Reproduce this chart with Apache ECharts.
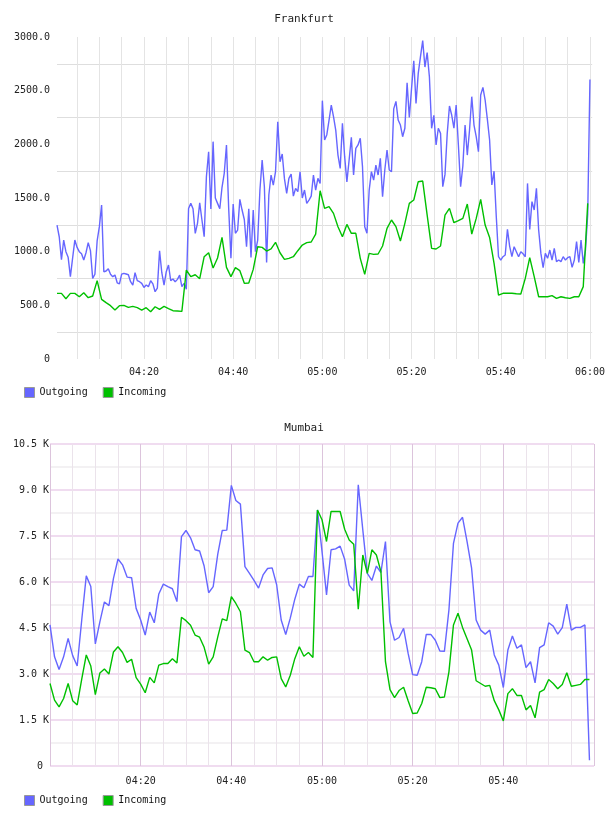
<!DOCTYPE html>
<html>
<head>
<meta charset="utf-8">
<title>Frankfurt / Mumbai traffic</title>
<script src="https://cdn.jsdelivr.net/npm/echarts@6/dist/echarts.min.js"></script>
<style>
  html, body { margin: 0; padding: 0; background: #ffffff; }
  #chart { width: 608px; height: 816px; }
</style>
</head>
<body>
<div id="chart"></div>
<script>
// Frankfurt: outgoing sampled every 30 s from 04:00:30, incoming every minute
const frankfurtOutgoing = [
  1248, 1139, 925, 1108, 1000, 947, 767, 940, 1108, 1040,
  1000, 980, 922, 990, 1084, 1010, 751, 790, 1100, 1233,
  1435, 813, 820, 841, 790, 767, 782, 710, 700, 790,
  798, 792, 785, 720, 689, 804, 730, 720, 705, 667,
  689, 674, 730, 700, 627, 660, 1009, 804, 689, 813,
  876, 730, 745, 720, 742, 782, 674, 705, 650, 1403,
  1450, 1400, 1171, 1264, 1456, 1295, 1140, 1698, 1931, 1397,
  2025, 1500, 1450, 1400, 1600, 1730, 1994, 1400, 938, 1444,
  1171, 1200, 1487, 1388, 1300, 1046, 1400, 947, 1388, 1000,
  1108, 1574, 1854, 1605, 900, 1528, 1714, 1620, 1745, 2211,
  1838, 1910, 1680, 1543, 1683, 1723, 1518, 1590, 1560, 1745,
  1500, 1574, 1450, 1481, 1518, 1714, 1574, 1683, 1636, 2407,
  2040, 2090, 2226, 2366, 2258, 2133, 1900, 1776, 2195, 1885,
  1650, 1854, 2065, 1714, 1962, 1994, 2056, 1792, 1233, 1171,
  1574, 1745, 1667, 1807, 1714, 1869, 1512, 1761, 1947, 1761,
  1745, 2330, 2400, 2226, 2180, 2071, 2150, 2574, 2250, 2521,
  2779, 2380, 2661, 2817, 2966, 2720, 2854, 2630, 2149, 2270,
  1994, 2150, 2102, 1605, 1720, 2102, 2357, 2273, 2150, 2366,
  1994, 1605, 1798, 2180, 1900, 2133, 2444, 2180, 2071, 1931,
  2459, 2531, 2413, 2233, 2040, 1621, 1750, 1326, 953, 922,
  953, 969, 1208, 1050, 953, 1046, 1000, 953, 1000, 980,
  953, 1636, 1208, 1466, 1388, 1590, 1202, 984, 850, 984,
  938, 1015, 922, 1031, 907, 922, 907, 953, 922, 944,
  953, 854, 922, 1093, 900, 1108, 891, 1015, 1350, 2605
]

const frankfurtIncoming = [
  611, 611, 562, 611, 611, 580, 618, 571, 587, 730,
  556, 525, 497, 456, 497, 500, 481, 490, 478, 456,
  478, 441, 487, 462, 490, 469, 450, 447, 444, 829,
  767, 785, 748, 953, 990, 848, 941, 1133, 854, 767,
  851, 823, 705, 708, 835, 1046, 1040, 1006, 1025, 1087,
  990, 928, 938, 953, 1009, 1062, 1084, 1090, 1164, 1568,
  1403, 1419, 1357, 1233, 1139, 1254, 1171, 1171, 938, 789,
  984, 975, 978, 1053, 1217, 1295, 1233, 1099, 1264, 1450,
  1481, 1652, 1658, 1341, 1031, 1025, 1053, 1341, 1403, 1270,
  1289, 1310, 1444, 1164, 1310, 1487, 1248, 1133, 891, 596,
  612, 612, 612, 608, 605, 751, 944, 767, 580, 580,
  580, 590, 565, 580, 571, 565, 580, 580, 674, 1450
]

// Mumbai: one sample per minute from 04:00
const mumbaiOutgoing = [
  4600, 3560, 3150, 3560, 4160, 3600, 3260, 4760, 6200, 5850,
  3980, 4700, 5350, 5230, 6120, 6750, 6560, 6160, 6140, 5140,
  4760, 4270, 5020, 4670, 5610, 5930, 5850, 5780, 5360, 7480,
  7680, 7440, 7050, 7010, 6520, 5650, 5850, 6900, 7680, 7690,
  9150, 8660, 8540, 6500, 6280, 6050, 5800, 6230, 6440, 6460,
  5910, 4760, 4290, 4820, 5440, 5930, 5810, 6180, 6180, 8350,
  7000, 5580, 7050, 7080, 7170, 6740, 5900, 5710, 9170, 7700,
  6280, 6050, 6520, 6310, 7320, 4700, 4100, 4190, 4490, 3670,
  2980, 2960, 3400, 4290, 4290, 4100, 3750, 3740, 5090, 7260,
  7920, 8110, 7320, 6450, 4760, 4430, 4300, 4430, 3620, 3290,
  2560, 3780, 4240, 3840, 3950, 3210, 3400, 2710, 3860, 3950,
  4670, 4560, 4300, 4510, 5280, 4430, 4520, 4520, 4600, 190
]

const mumbaiIncoming = [
  2690, 2150, 1930, 2200, 2690, 2130, 1990, 2830, 3620, 3260,
  2330, 3030, 3160, 3000, 3720, 3890, 3700, 3380, 3480, 2880,
  2670, 2390, 2890, 2710, 3290, 3340, 3340, 3500, 3360, 4850,
  4740, 4590, 4270, 4200, 3870, 3320, 3560, 4200, 4800, 4740,
  5520, 5300, 5030, 3780, 3700, 3400, 3400, 3560, 3450, 3540,
  3560, 2850, 2580, 2960, 3500, 3890, 3580, 3700, 3540, 8350,
  8030, 7320, 8300, 8300, 8300, 7720, 7370, 7230, 5110, 6880,
  6280, 7050, 6880, 6340, 3400, 2490, 2230, 2460, 2570, 2130,
  1710, 1730, 2040, 2570, 2550, 2520, 2230, 2250, 3070, 4600,
  4980, 4520, 4150, 3780, 2780, 2690, 2600, 2630, 2130, 1830,
  1470, 2360, 2520, 2300, 2300, 1830, 1970, 1570, 2410, 2490,
  2820, 2690, 2520, 2660, 3040, 2600, 2630, 2660, 2820, 2820
]

const seriesNames = ['Outgoing', 'Incoming']
const titles = ['Frankfurt', 'Mumbai']

const FONT = 'DejaVu Sans Mono'
const BLUE = '#6666ff'
const GREEN = '#00c000'

function clock(seconds) {
  const h = String(Math.floor(seconds / 3600)).padStart(2, '0')
  const m = String(Math.floor(seconds / 60) % 60).padStart(2, '0')
  const s = String(seconds % 60).padStart(2, '0')
  return `${h}:${m}:${s}`
}

// x categories: 04:00:30 .. 06:00:30 every 30 s, 04:00 .. 06:00 every minute
const frankfurtTimes = []
for (let s = 4 * 3600 + 30; s <= 6 * 3600 + 30; s += 30) frankfurtTimes.push(clock(s))
const mumbaiTimes = []
for (let s = 4 * 3600; s <= 6 * 3600; s += 60) mumbaiTimes.push(clock(s))

// incoming is per minute, so it sits on every other 30 s slot
const frankfurtIncomingData = frankfurtTimes.map((_, i) =>
  i % 2 === 0 && i / 2 < frankfurtIncoming.length ? frankfurtIncoming[i / 2] : null)

const labelStyle = { fontFamily: FONT, fontSize: 10, color: '#222' }

function lineSeries(name, data, gridIndex, color) {
  return {
    name,
    type: 'line',
    xAxisIndex: gridIndex,
    yAxisIndex: gridIndex,
    data,
    symbol: 'none',
    connectNulls: true,
    lineStyle: { color, width: 1.4 },
    itemStyle: { color }
  }
}

function legendAt(top) {
  return {
    left: 24,
    top,
    padding: 0,
    icon: 'rect',
    itemWidth: 10,
    itemHeight: 10,
    itemGap: 15,
    selectedMode: false,
    data: seriesNames,
    itemStyle: { borderColor: '#999999', borderWidth: 1 },
    textStyle: { fontFamily: FONT, fontSize: 10, color: '#111' }
  }
}

function buildOption() {
  return {
    animation: false,
    backgroundColor: '#ffffff',
    title: [
      { text: titles[0], left: 'center', top: 14, padding: 0,
        textStyle: { fontFamily: FONT, fontSize: 11, fontWeight: 'normal', color: '#222' } },
      { text: titles[1], left: 'center', top: 423, padding: 0,
        textStyle: { fontFamily: FONT, fontSize: 11, fontWeight: 'normal', color: '#222' } }
    ],
    legend: [legendAt(387), legendAt(795)],
    grid: [
      { left: 57, right: 14, top: 37, height: 322 },
      { left: 50, right: 14, top: 444, height: 322 }
    ],
    xAxis: [
      {
        type: 'category',
        gridIndex: 0,
        data: frankfurtTimes,
        boundaryGap: false,
        axisLine: { show: false },
        axisTick: { show: false },
        axisLabel: {
          ...labelStyle,
          margin: 8,
          interval: (index) => index >= 39 && (index - 39) % 40 === 0,
          formatter: (value) => value.slice(0, 5)
        },
        splitLine: {
          show: true,
          interval: (index) => index >= 9 && (index - 9) % 10 === 0,
          lineStyle: { color: '#e4e4e4', width: 1 }
        }
      },
      {
        type: 'category',
        gridIndex: 1,
        data: mumbaiTimes,
        boundaryGap: false,
        axisLine: { show: false },
        axisTick: { show: false },
        axisLabel: {
          ...labelStyle,
          margin: 10,
          interval: (index) => index > 0 && index < 120 && index % 20 === 0,
          formatter: (value) => value.slice(0, 5)
        },
        splitLine: {
          show: true,
          interval: 4,
          lineStyle: { color: ['#dcc4dc', '#ebe3eb', '#ebe3eb', '#ebe3eb'], width: 1 }
        }
      }
    ],
    yAxis: [
      {
        type: 'value',
        gridIndex: 0,
        min: 0,
        max: 3000,
        interval: 250,
        axisLine: { show: false },
        axisTick: { show: false },
        axisLabel: {
          ...labelStyle,
          margin: 7,
          formatter: (v) => (v % 500 !== 0 ? '' : v === 0 ? '0' : v.toFixed(1))
        },
        splitLine: { lineStyle: { color: ['rgba(0,0,0,0)', '#dedede'], width: 1 } }
      },
      {
        type: 'value',
        gridIndex: 1,
        min: 0,
        max: 10500,
        interval: 750,
        axisLine: { show: false },
        axisTick: { show: false },
        axisLabel: {
          ...labelStyle,
          margin: 1,
          formatter: (v) => (v % 1500 !== 0 ? '' : v === 0 ? '0 ' : (v / 1000).toFixed(1) + ' K')
        },
        splitLine: { lineStyle: { color: ['#f0dcf0', '#f3f1f3'], width: 2 } }
      }
    ],
    series: [
      lineSeries(seriesNames[0], frankfurtOutgoing, 0, BLUE),
      lineSeries(seriesNames[1], frankfurtIncomingData, 0, GREEN),
      lineSeries(seriesNames[0], mumbaiOutgoing, 1, BLUE),
      lineSeries(seriesNames[1], mumbaiIncoming, 1, GREEN)
    ]
  }
}

const chart = echarts.init(document.getElementById('chart'), null, { renderer: 'canvas' })
chart.setOption(buildOption())
</script>
</body>
</html>
